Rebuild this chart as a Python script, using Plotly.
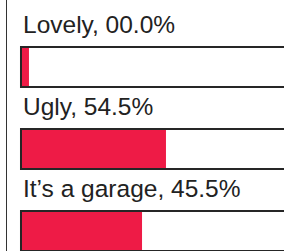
import plotly.graph_objects as go

categories = ["Lovely", "Ugly", "It’s a garage"]
percents = [0.0, 54.5, 45.5]
full_scale = [100, 100, 100]

RED = "#EE1B46"
DARK = "#262626"
MIN_VISIBLE = 3.0  # a zero result still shows a small stub

labels = [f"{c}, {p:04.1f}%" for c, p in zip(categories, percents)]
idx = list(range(len(categories)))
shown = [max(p, MIN_VISIBLE) for p in percents]

fig = go.Figure()
fig.add_trace(go.Bar(y=idx, x=full_scale, orientation="h", width=0.488,
                     marker=dict(color="white", line=dict(width=0)),
                     hoverinfo="skip", showlegend=False))
fig.add_trace(go.Bar(y=idx, x=shown, orientation="h", width=0.488,
                     marker=dict(color=RED, line=dict(width=0)),
                     hoverinfo="skip", showlegend=False))
fig.add_trace(go.Bar(y=idx, x=full_scale, orientation="h", width=0.488,
                     marker=dict(color="rgba(0,0,0,0)", line=dict(color=DARK, width=2)),
                     hoverinfo="skip", showlegend=False))

for i, lab in zip(idx, labels):
    fig.add_annotation(x=0, y=i, xref="x", yref="y", text=lab, showarrow=False,
                       xanchor="left", yanchor="middle", xshift=0, yshift=42,
                       font=dict(family="Liberation Sans, Arial, sans-serif", size=24.5, color="#222222"))

fig.update_layout(
    width=284, height=251,
    margin=dict(l=7, r=0, t=0, b=0),
    paper_bgcolor="white", plot_bgcolor="white",
    barmode="overlay",
    xaxis=dict(range=[-5.26, 98.87], showgrid=False, zeroline=False, showticklabels=False,
               showline=False, fixedrange=True),
    yaxis=dict(range=[2.244, -0.817], showgrid=False, zeroline=False, showticklabels=False,
               showline=True, linecolor="#333333", linewidth=1, mirror=False, fixedrange=True),
)

fig.write_html("out.html", config={"displayModeBar": False},
               post_script="document.body.style.margin='0';document.body.style.overflow='hidden';")
